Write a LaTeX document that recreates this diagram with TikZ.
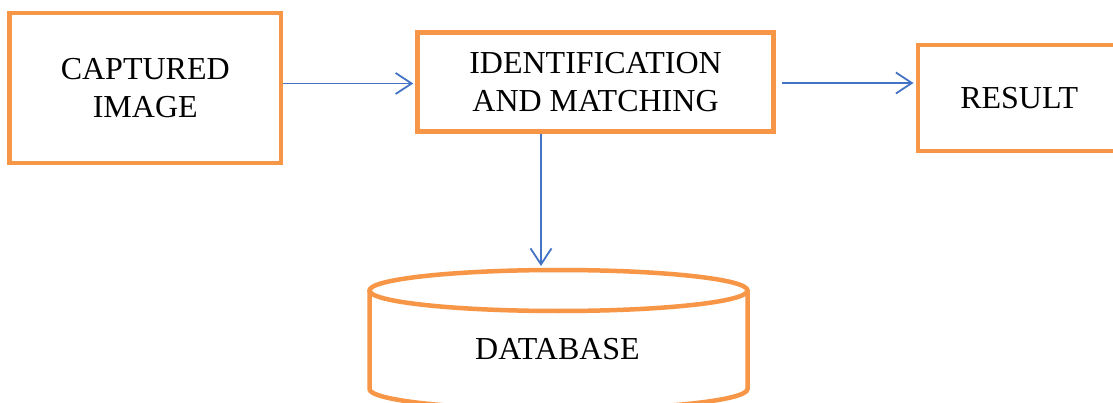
\documentclass[tikz,border=0pt]{standalone}
\usepackage{fontspec}
\setmainfont{Liberation Serif}
\usetikzlibrary{arrows.meta}
\definecolor{boxorange}{HTML}{F79646}
\definecolor{linkblue}{HTML}{4472C4}
\tikzset{
  block/.style={draw=boxorange, line width=4.5pt, fill=white, align=center,
    inner sep=0pt, font=\fontsize{32}{37.5}\selectfont},
  dbline/.style={draw=boxorange, line width=4.5pt},
  link/.style={draw=linkblue, line width=1.8pt,
    -{Straight Barb[length=16pt,width=21pt,line width=1.8pt]}},
}
\begin{document}
\begin{tikzpicture}[x=1pt,y=-1pt]
  \clip (0,0) rectangle (1113,403);
  \fill[white] (0,0) rectangle (1113,403);

  % process boxes
  \node[block, minimum width=271.5pt, minimum height=150pt] (cap) at (145.25,88)
    {CAPTURED\\IMAGE};
  \node[block, minimum width=356pt, minimum height=99pt] (idm) at (595.5,82)
    {IDENTIFICATION\\AND MATCHING};
  \node[block, minimum width=205pt, minimum height=106pt, anchor=west] (res) at (915.5,98)
    {\hspace*{-2pt}RESULT};

  % database cylinder
  \draw[dbline, fill=white] (369.5,290.5) -- (369.5,389)
    arc[start angle=180, end angle=0, x radius=189, y radius=20.5]
    -- (747.5,290.5);
  \draw[dbline] (558.5,290.5) ellipse [x radius=189, y radius=20.5];
  \node[font=\fontsize{32}{37}\selectfont] (db) at (557.5,349) {DATABASE};
  \coordinate (dbtop) at (541,266);

  % connectors
  \draw[link] ([yshift=-1.5pt]idm.center -| cap.east) -- ([xshift=-2pt,yshift=-1.5pt]idm.west);
  \draw[link] ([xshift=6pt,yshift=-1pt]idm.east) -- ([xshift=-2pt,yshift=-1pt]idm.east -| res.west);
  \draw[link] (idm.south -| dbtop) -- (dbtop);
\end{tikzpicture}
\end{document}
